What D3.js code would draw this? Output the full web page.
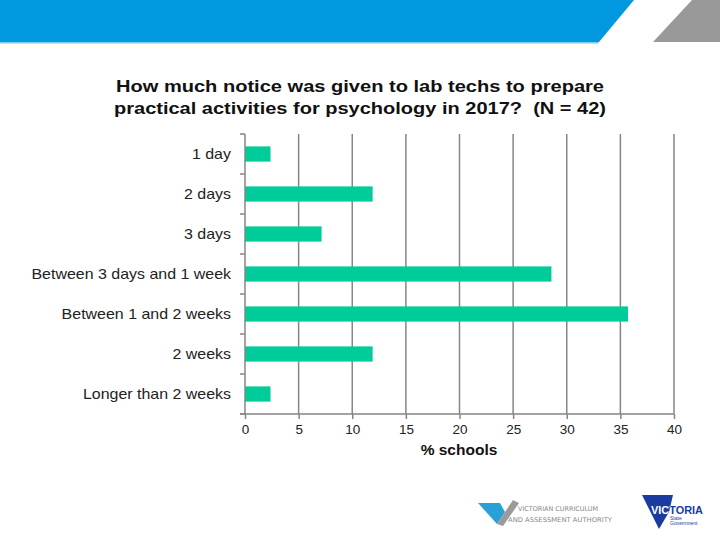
<!DOCTYPE html>
<html><head><meta charset="utf-8">
<script src="https://cdn.jsdelivr.net/npm/d3@7"></script>
<style>body{margin:0;background:#fff}svg{display:block}</style>
</head><body>
<svg id="chart" width="720" height="540"></svg>
<script>
const categories = ["1 day","2 days","3 days","Between 3 days and 1 week","Between 1 and 2 weeks","2 weeks","Longer than 2 weeks"];
const percentSchools = [2.38, 11.9, 7.14, 28.57, 35.71, 11.9, 2.38];
const xTicks = [0,5,10,15,20,25,30,35,40];
const titleLines = ["How much notice was given to lab techs to prepare","practical activities for psychology in 2017?  (N = 42)"];
const xLabel = "% schools";

(function(){
const svg = d3.select("#chart");
const font = "Arial, 'Liberation Sans', sans-serif";
function stretch(sel, f){ sel.each(function(){ const w=this.getComputedTextLength(); d3.select(this).attr("textLength", w*f).attr("lengthAdjust","spacingAndGlyphs"); }); }

// header banner
svg.append("path").attr("d","M0,0 L634,0 L599,42 L0,42 Z").attr("fill","#0099e0");
svg.append("path").attr("d","M0,42 L599,42 L598,43.5 L0,43.5 Z").attr("fill","#7cc8ee");
svg.append("path").attr("d","M692,0 L720,0 L720,42 L653,42 Z").attr("fill","#999999");

// title
const tt = svg.append("g").selectAll("text").data(titleLines).join("text")
  .attr("x",360).attr("y",(d,i)=>92+i*22).attr("text-anchor","middle")
  .attr("xml:space","preserve").style("white-space","pre")
  .attr("font-family",font).attr("font-weight","bold").attr("font-size",17).attr("fill","#111")
  .text(d=>d);
tt.each(function(d,i){ d3.select(this).attr("textLength", i===0?488:492).attr("lengthAdjust","spacingAndGlyphs"); });

const pLeft=245, pRight=674, pTop=134, pBottom=414;
const x = d3.scaleLinear().domain([0,40]).range([pLeft,pRight]);
const y = d3.scaleBand().domain(categories).range([pTop,pBottom]).paddingInner(0.62).paddingOuter(0.31);
const yb = d3.scaleBand().domain(categories).range([pTop,pBottom]);

// gridlines
svg.append("g").selectAll("line").data(xTicks.filter(t=>t>0)).join("line")
  .attr("x1",d=>x(d)).attr("x2",d=>x(d)).attr("y1",pTop).attr("y2",pBottom)
  .attr("stroke","#868686").attr("stroke-width",1.5);

// bars
svg.append("g").selectAll("rect").data(categories).join("rect")
  .attr("x",x(0)).attr("y",d=>y(d)).attr("height",y.bandwidth())
  .attr("width",(d,i)=>x(percentSchools[i])-x(0)).attr("fill","#00cc99");

// x axis
const xAxis = svg.append("g").attr("transform",`translate(0,${pBottom})`)
  .call(d3.axisBottom(x).tickValues(xTicks).tickSize(5).tickPadding(6));
xAxis.select(".domain").attr("stroke","#868686").attr("stroke-width",1.5).attr("d",`M${pLeft-5},0H${pRight}`);
xAxis.selectAll(".tick line").attr("stroke","#868686").attr("stroke-width",1.5);
xAxis.selectAll("text").attr("font-family",font).attr("font-size",12.5).attr("fill","#222");
stretch(xAxis.selectAll("text"), 1.08);

// y axis
const boundaries = categories.map(c=>yb(c)).concat([pBottom]);
svg.append("line").attr("x1",pLeft).attr("x2",pLeft).attr("y1",pTop).attr("y2",pBottom)
  .attr("stroke","#868686").attr("stroke-width",1.5);
svg.append("g").selectAll("line").data(boundaries).join("line")
  .attr("x1",pLeft-5).attr("x2",pLeft).attr("y1",d=>d).attr("y2",d=>d)
  .attr("stroke","#868686").attr("stroke-width",1.5);
const yl = svg.append("g").selectAll("text").data(categories).join("text")
  .attr("x",pLeft-14).attr("y",d=>yb(d)+yb.bandwidth()/2).attr("dy","0.35em")
  .attr("text-anchor","end").attr("font-family",font).attr("font-size",14.5).attr("fill","#222")
  .text(d=>d);
stretch(yl, 1.1);

// x label
svg.append("text").attr("x",459).attr("y",455).attr("text-anchor","middle")
  .attr("font-family",font).attr("font-weight","bold").attr("font-size",15.5).attr("fill","#111").text(xLabel);

// VCAA logo (simplified)
const lg = svg.append("g");
lg.append("path").attr("d","M478,503 L500,503 L505,512 L497,524 Z").attr("fill","#2aa0d8");
lg.append("path").attr("d","M497,524 L513,500 L519,503 L503,526 Z").attr("fill","#9a9a9a");
lg.append("text").attr("x",518).attr("y",511).attr("font-family","'DejaVu Sans Condensed', Arial, sans-serif")
  .attr("font-size",6.5).attr("textLength",80).attr("lengthAdjust","spacingAndGlyphs").attr("fill","#888").text("VICTORIAN CURRICULUM");
lg.append("text").attr("x",508).attr("y",521.5).attr("font-family","'DejaVu Sans Condensed', Arial, sans-serif")
  .attr("font-size",6.5).attr("textLength",104).attr("lengthAdjust","spacingAndGlyphs").attr("fill","#888").text("AND ASSESSMENT AUTHORITY");

// Victoria State Government logo (simplified)
const shield = "M642,495 L673,495 L669,512 L659,529 Z";
svg.append("clipPath").attr("id","vclip").append("path").attr("d",shield);
const vg = svg.append("g");
vg.append("path").attr("d",shield).attr("fill","#1a3c9e");
vg.append("text").attr("x",651).attr("y",514).attr("font-family",font).attr("font-weight","bold")
  .attr("font-size",10.5).attr("textLength",52).attr("lengthAdjust","spacingAndGlyphs").attr("fill","#1a3c9e").text("VICTORIA");
vg.append("text").attr("x",651).attr("y",514).attr("font-family",font).attr("font-weight","bold")
  .attr("font-size",10.5).attr("textLength",52).attr("lengthAdjust","spacingAndGlyphs").attr("fill","#fff").attr("clip-path","url(#vclip)").text("VICTORIA");
vg.append("text").attr("x",670).attr("y",520).attr("font-family",font).attr("font-size",5).attr("fill","#1a3c9e").text("State");
vg.append("text").attr("x",670).attr("y",525).attr("font-family",font).attr("font-size",5).attr("fill","#1a3c9e").text("Government");
})();
</script>
</body></html>
